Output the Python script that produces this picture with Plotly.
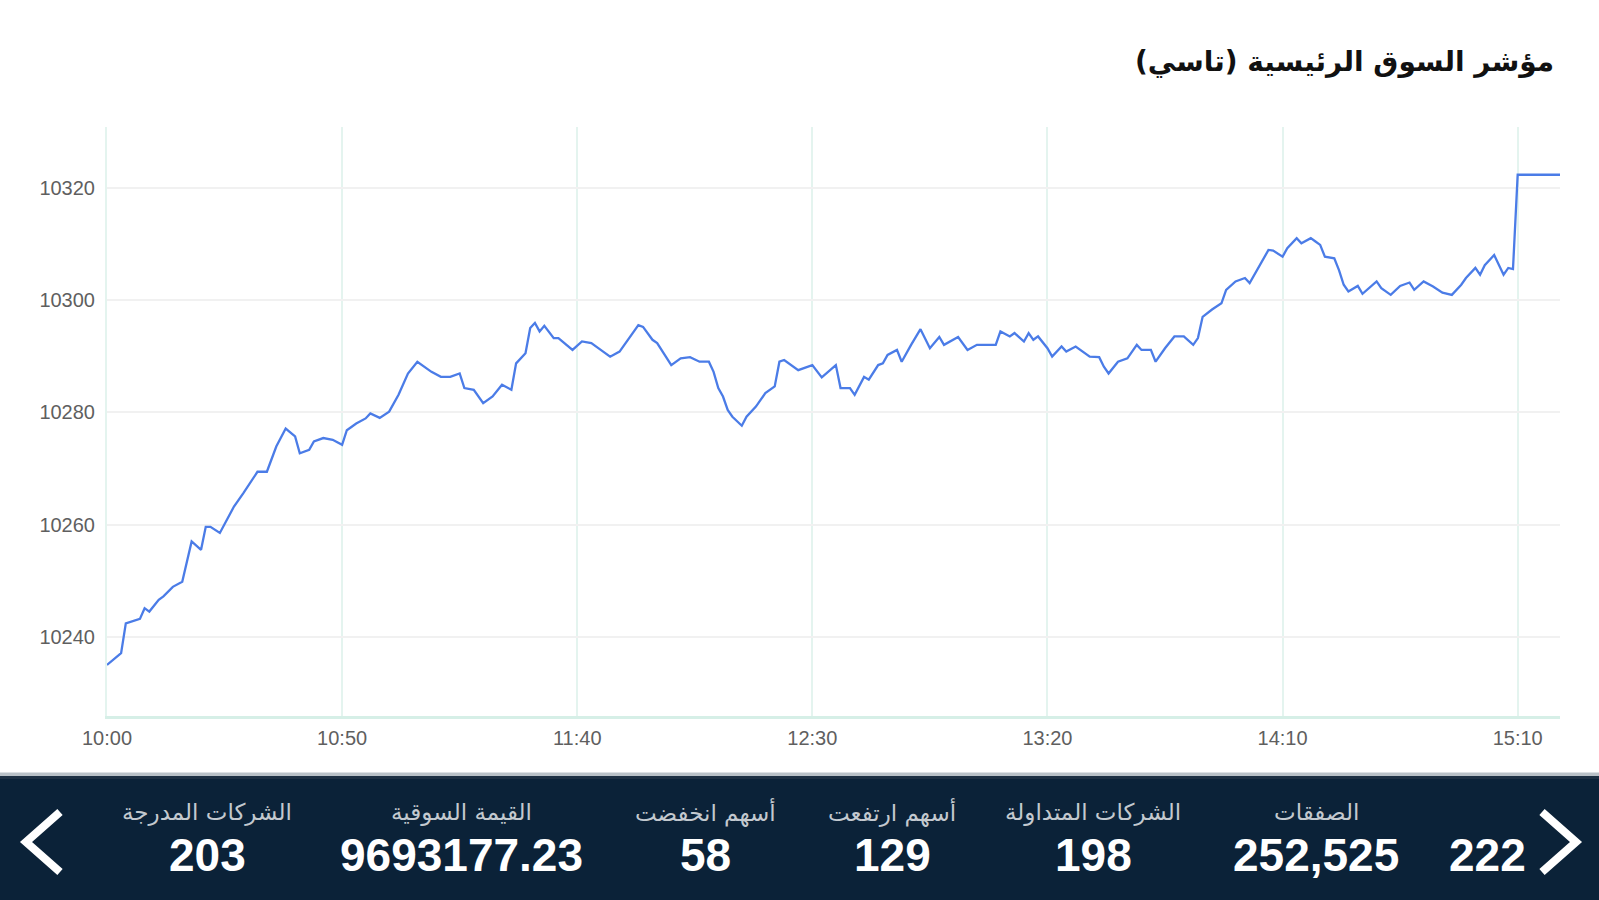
import plotly.graph_objects as go

# ---------------- data ----------------
session_date = "2024-01-01"
times = [
    "10:00", "10:02", "10:03", "10:04", "10:06", "10:07", "10:08", "10:09", "10:11", "10:12",
    "10:14", "10:16", "10:18", "10:20", "10:21", "10:22", "10:24", "10:27", "10:29", "10:32",
    "10:34", "10:36", "10:38", "10:40", "10:41", "10:43", "10:44", "10:46", "10:48", "10:50",
    "10:51", "10:53", "10:55", "10:56", "10:58", "11:00", "11:02", "11:04", "11:06", "11:09",
    "11:11", "11:13", "11:15", "11:16", "11:18", "11:20", "11:22", "11:24", "11:26", "11:27",
    "11:29", "11:30", "11:31", "11:32", "11:33", "11:35", "11:36", "11:39", "11:41", "11:43",
    "11:45", "11:47", "11:49", "11:51", "11:53", "11:54", "11:56", "11:57", "11:59", "12:00",
    "12:02", "12:04", "12:06", "12:08", "12:09", "12:10", "12:11", "12:12", "12:13", "12:15",
    "12:16", "12:18", "12:20", "12:22", "12:23", "12:24", "12:27", "12:28", "12:30", "12:32",
    "12:33", "12:35", "12:36", "12:38", "12:39", "12:41", "12:42", "12:44", "12:45", "12:46",
    "12:48", "12:49", "12:51", "12:53", "12:55", "12:57", "12:58", "13:01", "13:03", "13:05",
    "13:09", "13:10", "13:12", "13:13", "13:15", "13:16", "13:17", "13:18", "13:20", "13:21",
    "13:23", "13:24", "13:26", "13:29", "13:31", "13:32", "13:33", "13:35", "13:37", "13:39",
    "13:40", "13:42", "13:43", "13:45", "13:47", "13:49", "13:51", "13:52", "13:53", "13:55",
    "13:57", "13:58", "14:00", "14:02", "14:03", "14:05", "14:07", "14:08", "14:10", "14:11",
    "14:13", "14:14", "14:16", "14:17", "14:18", "14:19", "14:21", "14:22", "14:23", "14:24",
    "14:26", "14:27", "14:30", "14:31", "14:33", "14:35", "14:37", "14:38", "14:40", "14:42",
    "14:44", "14:46", "14:48", "14:49", "14:51", "14:52", "14:53", "14:55", "14:57", "14:58",
    "14:59", "15:10", "15:19",
]
index_values = [
    10235.0, 10236.5, 10237.1, 10242.4, 10243.0, 10243.2, 10245.1, 10244.5, 10246.6, 10247.2,
    10248.9, 10249.8, 10257.0, 10255.5, 10259.6, 10259.6, 10258.5, 10263.2, 10265.6, 10269.4,
    10269.4, 10273.9, 10277.1, 10275.7, 10272.7, 10273.3, 10274.8, 10275.4, 10275.1, 10274.2,
    10276.8, 10278.0, 10278.9, 10279.8, 10279.0, 10280.1, 10283.1, 10286.9, 10289.0, 10287.2,
    10286.3, 10286.3, 10286.9, 10284.3, 10284.0, 10281.6, 10282.8, 10284.9, 10284.0, 10288.7,
    10290.5, 10295.0, 10295.9, 10294.4, 10295.4, 10293.2, 10293.2, 10291.1, 10292.6, 10292.3,
    10291.1, 10289.9, 10290.8, 10293.2, 10295.5, 10295.2, 10292.9, 10292.3, 10289.6, 10288.4,
    10289.6, 10289.8, 10289.0, 10289.0, 10287.2, 10284.3, 10282.8, 10280.4, 10279.2, 10277.6,
    10279.2, 10281.0, 10283.4, 10284.6, 10289.0, 10289.3, 10287.5, 10287.8, 10288.4, 10286.2,
    10286.9, 10288.4, 10284.3, 10284.3, 10283.1, 10286.3, 10285.8, 10288.4, 10288.7, 10290.2,
    10291.1, 10289.0, 10292.0, 10294.8, 10291.4, 10293.4, 10292.0, 10293.4, 10291.1, 10292.0,
    10292.0, 10294.4, 10293.5, 10294.1, 10292.6, 10294.1, 10292.9, 10293.5, 10291.4, 10289.9,
    10291.7, 10290.8, 10291.7, 10289.9, 10289.8, 10288.1, 10286.9, 10289.0, 10289.6, 10292.0,
    10291.1, 10291.1, 10289.0, 10291.4, 10293.5, 10293.5, 10292.0, 10293.2, 10297.0, 10298.3,
    10299.4, 10301.8, 10303.3, 10303.9, 10303.0, 10305.9, 10308.9, 10308.8, 10307.7, 10309.2,
    10311.0, 10310.1, 10311.0, 10310.4, 10309.8, 10307.7, 10307.4, 10305.3, 10302.7, 10301.5,
    10302.5, 10301.1, 10303.3, 10302.1, 10300.9, 10302.5, 10303.1, 10301.8, 10303.3, 10302.4,
    10301.3, 10300.9, 10302.7, 10303.9, 10305.7, 10304.5, 10306.2, 10308.0, 10304.5, 10305.7,
    10305.5, 10322.3, 10322.3,
]
x_tick_labels = ["10:00", "10:50", "11:40", "12:30", "13:20", "14:10", "15:10"]
y_tick_values = [10240, 10260, 10280, 10300, 10320]
auction_gap = ["15:00", "15:10"]
axis_end = "15:19"

title_text = "مؤشر السوق الرئيسية (تاسي)"
stat_labels = ["الشركات المدرجة", "القيمة السوقية", "أسهم انخفضت", "أسهم ارتفعت",
               "الشركات المتداولة", "الصفقات"]
stat_values = ["203", "9693177.23", "58", "129", "198", "252,525"]
clipped_value = "222"

# ---------------- layout geometry (pixels) ----------------
W, H = 1599, 900
L, R, T, B = 107, 1560, 127, 716


def fx(X):
    return (X - L) / (R - L)


def fy(Y):
    return (B - Y) / (B - T)


def stamp(t):
    return f"{session_date} {t}"


x = [stamp(t) for t in times]

fig = go.Figure()
fig.add_trace(go.Scatter(
    x=x, y=index_values, mode="lines",
    line=dict(color="#4b7ce7", width=2.3),
    hoverinfo="skip",
))

axis_font = dict(family="Liberation Sans, Arial, sans-serif", size=20, color="#5f5f5f")

fig.update_layout(
    width=W, height=H,
    margin=dict(l=L, r=W - R, t=T, b=H - B, pad=0),
    paper_bgcolor="white", plot_bgcolor="white",
    showlegend=False,
    xaxis=dict(
        type="date",
        range=[stamp(times[0]), stamp(axis_end)],
        rangebreaks=[dict(bounds=[stamp(auction_gap[0]), stamp(auction_gap[1])])],
        tickvals=[stamp(t) for t in x_tick_labels],
        ticktext=x_tick_labels,
        tickfont=axis_font,
        ticks="", ticklabelstandoff=2,
        showgrid=True, gridcolor="#e4f4ef", gridwidth=1.5,
        showline=True, linecolor="#d6efe7", linewidth=2.5,
        zeroline=False, fixedrange=True,
    ),
    yaxis=dict(
        range=[10225.9, 10330.8],
        tickvals=y_tick_values,
        tickformat="d",
        tickfont=axis_font,
        ticks="", ticklabelstandoff=6,
        showgrid=True, gridcolor="#f1f1f1", gridwidth=2,
        showline=True, linecolor="#e4f4ef", linewidth=2,
        zeroline=False, fixedrange=True,
    ),
)

shapes = []
# bottom dark bar
shapes.append(dict(type="rect", xref="paper", yref="paper",
                   x0=fx(0), x1=fx(W), y0=fy(H), y1=fy(775),
                   fillcolor="#0b2238", line=dict(width=0), layer="above"))
shapes.append(dict(type="rect", xref="paper", yref="paper",
                   x0=fx(0), x1=fx(W), y0=fy(776), y1=fy(772.5),
                   fillcolor="#b9c1c7", line=dict(width=0), layer="above"))
shapes.append(dict(type="rect", xref="paper", yref="paper",
                   x0=fx(0), x1=fx(W), y0=fy(779), y1=fy(776),
                   fillcolor="#1d3043", line=dict(width=0), layer="above"))
# chevrons
for pts in ([(60, 812), (26, 842), (60, 872)], [(1542, 812), (1576, 842), (1542, 872)]):
    path = "M {} {} L {} {} L {} {}".format(
        fx(pts[0][0]), fy(pts[0][1]), fx(pts[1][0]), fy(pts[1][1]), fx(pts[2][0]), fy(pts[2][1]))
    shapes.append(dict(type="path", xref="paper", yref="paper", path=path,
                       line=dict(color="white", width=8), layer="above"))
fig.update_layout(shapes=shapes)

annotations = []
annotations.append(dict(
    text="<b>\u200f" + title_text + "\u200f</b>", xref="paper", yref="paper",
    x=fx(1556), y=fy(61), xanchor="right", yanchor="middle", showarrow=False,
    font=dict(family="DejaVu Sans, sans-serif", size=28, color="#111111"),
))

stat_centers = [207, 461, 705, 892, 1093, 1316]
for cx, lab, val in zip(stat_centers, stat_labels, stat_values):
    annotations.append(dict(
        text=lab, xref="paper", yref="paper", x=fx(cx), y=fy(812),
        xanchor="center", yanchor="middle", showarrow=False,
        font=dict(family="DejaVu Sans, sans-serif", size=23, color="#c3c9cf"),
    ))
    annotations.append(dict(
        text="<b>" + val + "</b>", xref="paper", yref="paper", x=fx(cx), y=fy(855),
        xanchor="center", yanchor="middle", showarrow=False,
        font=dict(family="Liberation Sans, Arial, sans-serif", size=46, color="white"),
    ))
annotations.append(dict(
    text="<b>" + clipped_value + "</b>", xref="paper", yref="paper", x=fx(1447), y=fy(855),
    xanchor="left", yanchor="middle", showarrow=False,
    font=dict(family="Liberation Sans, Arial, sans-serif", size=46, color="white"),
))
fig.update_layout(annotations=annotations)

fig.write_html("out.html", config={"displayModeBar": False},
               post_script="document.body.style.margin='0';")
